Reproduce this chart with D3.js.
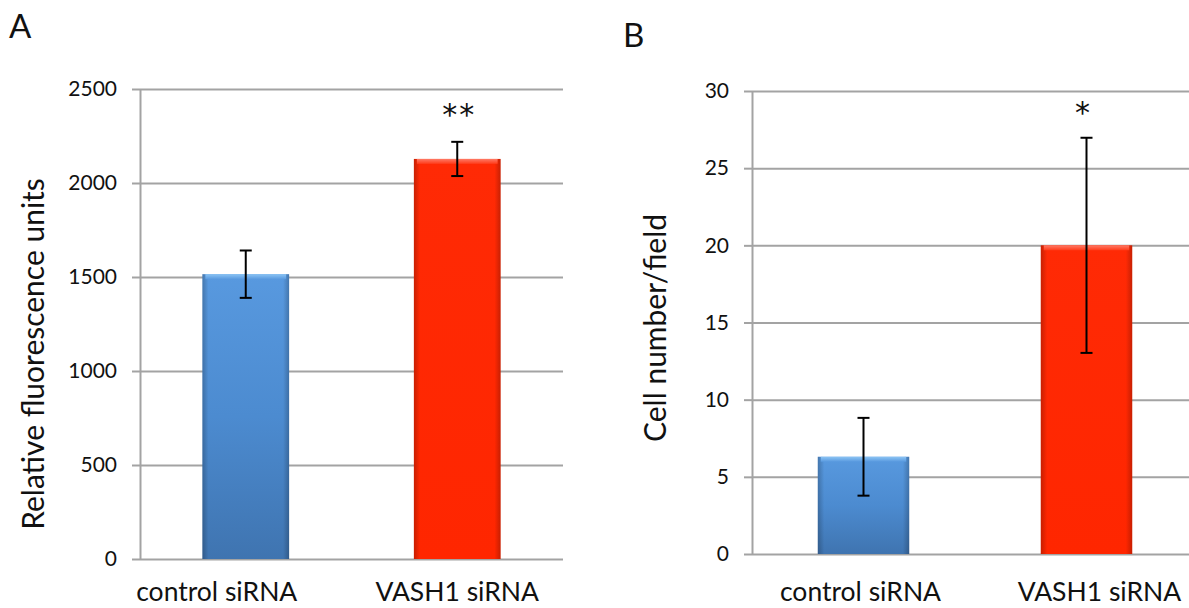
<!DOCTYPE html>
<head>
  <meta charset="utf-8">
  <script src="https://d3js.org/d3.v7.min.js"></script>
  <style>
    body { margin:0; background:#fff; }
    text { font-family: Lato, "Open Sans", sans-serif; fill:#111; }
  </style>
</head>

<body>
  <svg width="1189" height="608" id="vis"></svg>
<script>
  var groups = ["control siRNA", "VASH1 siRNA"];

  // panel A: relative fluorescence
  var fluorMean = [1515, 2128];
  var fluorErr = [126, 91];
  var fluorTicks = [0, 500, 1000, 1500, 2000, 2500];
  var fluorStars = ["", "**"];

  // panel B: migrated cells per field
  var cellMean = [6.3, 20.0];
  var cellErr = [2.52, 6.97];
  var cellTicks = [0, 5, 10, 15, 20, 25, 30];
  var cellStars = ["", "*"];

  var svg = d3.select("#vis");
  var defs = svg.append("defs");

  function vgrad(id, stops, horizontal) {
    var g = defs.append("linearGradient").attr("id", id)
      .attr("x1", 0).attr("y1", 0)
      .attr("x2", horizontal ? 1 : 0).attr("y2", horizontal ? 0 : 1);
    stops.forEach(function(s) {
      g.append("stop").attr("offset", s[0]).attr("stop-color", s[1]).attr("stop-opacity", s[2] == null ? 1 : s[2]);
    });
  }
  vgrad("blueFill", [[0, "#5899df"], [0.5, "#4c8bd0"], [1, "#3f74b0"]]);
  vgrad("redFill", [[0, "#ff2a05"], [1, "#ff2600"]]);
  vgrad("edges", [[0, "#000", 0.22], [0.07, "#000", 0], [0.93, "#000", 0], [1, "#000", 0.22]], true);
  vgrad("blueTop", [[0, "#8cc4f4"], [1, "#5899df"]]);
  vgrad("redTop", [[0, "#ff7a66"], [1, "#ff3a18"]]);

  var fills = ["url(#blueFill)", "url(#redFill)"];
  var tops = ["url(#blueTop)", "url(#redTop)"];

  function drawPanel(p) {
    var x = d3.scaleBand().domain(groups).range([p.left, p.right])
      .paddingInner(0.59).paddingOuter(0.295);
    var y = d3.scaleLinear().domain([0, p.ticks[p.ticks.length - 1]]).range([p.bottom, p.top]);
    var g = svg.append("g");

    // gridlines
    g.append("g")
      .attr("transform", "translate(" + p.left + ",0)")
      .call(d3.axisRight(y).tickValues(p.ticks).tickSize(p.gridEnd - p.left).tickFormat(""))
      .call(function(a) {
        a.select(".domain").remove();
        a.selectAll("line").attr("stroke", "#a3a3a3").attr("stroke-width", 2);
      });

    // left axis with outside ticks
    g.append("g")
      .attr("transform", "translate(" + p.left + ",0)")
      .call(d3.axisLeft(y).tickValues(p.ticks).tickFormat(d3.format("d"))
        .tickSize(8).tickSizeOuter(0).tickPadding(15))
      .call(function(a) {
        a.select(".domain").attr("stroke", "#a3a3a3").attr("stroke-width", 2);
        a.selectAll("line").attr("stroke", "#a3a3a3").attr("stroke-width", 2);
        a.selectAll("text").style("font-size", "21px").style("font-family", "Lato").attr("fill", "#111");
      });

    // bars
    var bars = g.selectAll(".bar").data(p.mean).enter().append("g");
    bars.append("rect")
      .attr("x", function(d, i) { return x(groups[i]); })
      .attr("y", function(d) { return y(d); })
      .attr("width", x.bandwidth())
      .attr("height", function(d) { return p.bottom - y(d); })
      .attr("fill", function(d, i) { return fills[i]; });
    bars.append("rect")
      .attr("x", function(d, i) { return x(groups[i]); })
      .attr("y", function(d) { return y(d); })
      .attr("width", x.bandwidth())
      .attr("height", function(d) { return p.bottom - y(d); })
      .attr("fill", "url(#edges)");
    bars.append("rect")
      .attr("x", function(d, i) { return x(groups[i]) + 3; })
      .attr("y", function(d) { return y(d); })
      .attr("width", x.bandwidth() - 6)
      .attr("height", 5)
      .attr("fill", function(d, i) { return tops[i]; });

    // error bars
    var cx = function(i) { return x(groups[i]) + x.bandwidth() / 2; };
    var eb = g.selectAll(".err").data(p.mean).enter().append("g")
      .attr("stroke", "#000").attr("stroke-width", 2);
    eb.append("line")
      .attr("x1", function(d, i) { return cx(i); })
      .attr("x2", function(d, i) { return cx(i); })
      .attr("y1", function(d, i) { return y(d + p.err[i]); })
      .attr("y2", function(d, i) { return y(d - p.err[i]); });
    [1, -1].forEach(function(s) {
      eb.append("line")
        .attr("x1", function(d, i) { return cx(i) - 6; })
        .attr("x2", function(d, i) { return cx(i) + 6; })
        .attr("y1", function(d, i) { return y(d + s * p.err[i]); })
        .attr("y2", function(d, i) { return y(d + s * p.err[i]); });
    });

    // significance stars
    g.selectAll(".star").data(p.stars).enter().append("text")
      .attr("x", function(d, i) { return cx(i) + p.starDx; })
      .attr("y", p.starY)
      .attr("text-anchor", "middle")
      .style("font-family", "'DejaVu Sans'")
      .style("font-size", "30px")
      .style("letter-spacing", "2px")
      .text(function(d) { return d; });

    // category labels
    g.selectAll(".cat").data(groups).enter().append("text")
      .attr("x", function(d, i) { return x(d) + x.bandwidth() / 2 + p.labelDx[i]; })
      .attr("y", 601)
      .attr("text-anchor", "middle")
      .style("font-size", "26.5px")
      .text(function(d) { return d; });

    // axis title
    g.append("text")
      .attr("transform", "translate(" + p.titleX + "," + p.titleY + ") rotate(-90)")
      .attr("text-anchor", "middle")
      .style("font-size", "30px")
      .text(p.title);

    // panel letter
    g.append("text")
      .attr("x", p.letterX).attr("y", p.letterY)
      .style("font-size", "33px")
      .text(p.letter);
  }

  drawPanel({
    mean: fluorMean, err: fluorErr, ticks: fluorTicks, stars: fluorStars,
    left: 140, right: 563, gridEnd: 563, top: 89, bottom: 559,
    starY: 125, starDx: 2, labelDx: [-29, 0],
    title: "Relative fluorescence units", titleX: 44, titleY: 354,
    letter: "A", letterX: 9, letterY: 38
  });

  drawPanel({
    mean: cellMean, err: cellErr, ticks: cellTicks, stars: cellStars,
    left: 752, right: 1198, gridEnd: 1198, top: 91, bottom: 554,
    starY: 123, starDx: -3, labelDx: [-3, 13],
    title: "Cell number/field", titleX: 666, titleY: 328,
    letter: "B", letterX: 623, letterY: 47
  });
</script>
</body>
